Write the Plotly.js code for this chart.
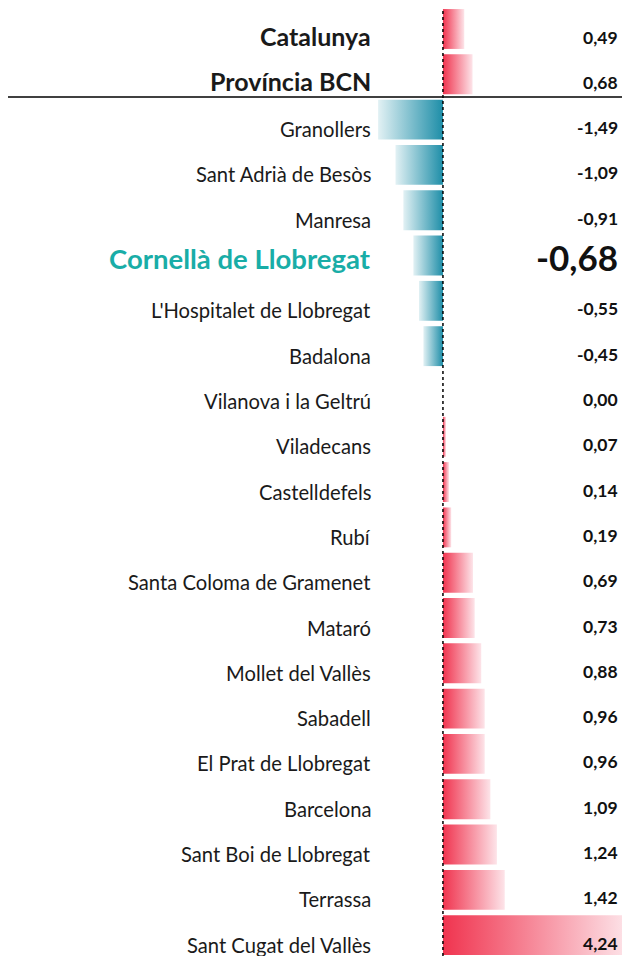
<!DOCTYPE html>
<html>
<head>
<meta charset="utf-8">
<script src="https://cdn.plot.ly/plotly-3.0.1.min.js"></script>
<style>html,body{margin:0;padding:0;background:#fff;}#chart{width:625px;height:956px;}</style>
</head>
<body>
<div id="chart"></div>
<script>
const categories = ["Catalunya","Província BCN","Granollers","Sant Adrià de Besòs","Manresa","Cornellà de Llobregat","L'Hospitalet de Llobregat","Badalona","Vilanova i la Geltrú","Viladecans","Castelldefels","Rubí","Santa Coloma de Gramenet","Mataró","Mollet del Vallès","Sabadell","El Prat de Llobregat","Barcelona","Sant Boi de Llobregat","Terrassa","Sant Cugat del Vallès"];
const values = [0.49,0.68,-1.49,-1.09,-0.91,-0.68,-0.55,-0.45,0.00,0.07,0.14,0.19,0.69,0.73,0.88,0.96,0.96,1.09,1.24,1.42,4.24];
const summaryRows = ["Catalunya","Província BCN"];
const highlight = "Cornellà de Llobregat";

const FONT = "Lato, 'Open Sans', sans-serif";
const posScale = [[0,"#F0344F"],[1,"#FDE4E9"]];
const negScale = [[0,"#E2F1F4"],[1,"#1E8EA8"]];
const half = 0.44;

const traces = [];
values.forEach((v,i)=>{
  if (v === 0) return;
  traces.push({
    type:"scatter", mode:"lines",
    x:[0, v, v, 0, 0],
    y:[i-half, i-half, i+half, i+half, i-half],
    fill:"toself",
    line:{width:0, color:"rgba(0,0,0,0)"},
    fillgradient:{type:"horizontal", colorscale: v>0 ? posScale : negScale},
    hoverinfo:"skip", showlegend:false
  });
});

const fmt = v => v.toFixed(2).replace('.', ',');
const annotations = [];
categories.forEach((c,i)=>{
  const isSum = summaryRows.includes(c);
  const isHi = c === highlight;
  annotations.push({
    xref:"paper", yref:"y", x:0.6, y:i, xanchor:"right", yanchor:"middle",
    yshift: isSum ? -7 : (isHi ? -3 : -9.5),
    text: (isSum||isHi) ? "<b>"+c+"</b>" : c, showarrow:false,
    font:{family:FONT, size: isHi ? 27.5 : (isSum ? 25 : 20.2), color: isHi ? "#19ADA7" : "#1a1a1a"}
  });
  annotations.push({
    xref:"paper", yref:"y", x:0.997, y:i, xanchor:"right", yanchor:"middle",
    yshift: isHi ? -1 : -8,
    text:"<b>"+fmt(values[i])+"</b>", showarrow:false,
    font:{family:FONT, size: isHi ? 35 : 17.5, color:"#111"}
  });
});

const layout = {
  width:625, height:956,
  margin:{l:0, r:3, t:0, b:0},
  paper_bgcolor:"#fff", plot_bgcolor:"#fff",
  xaxis:{range:[-10.18, 4.115], showgrid:false, zeroline:false, showticklabels:false, showline:false, fixedrange:true},
  yaxis:{range:[20.46, -0.64], showgrid:false, zeroline:false, showticklabels:false, showline:false, fixedrange:true},
  annotations: annotations,
  shapes:[
    {type:"line", xref:"x", yref:"paper", x0:0, x1:0, y0:0, y1:1-8/956, line:{color:"#000", width:1.5, dash:"dot"}, layer:"above"},
    {type:"line", xref:"paper", yref:"y", x0:8/622, x1:1, y0:1.5, y1:1.5, line:{color:"#000", width:1.5}, layer:"above"}
  ]
};

Plotly.newPlot("chart", traces, layout, {displayModeBar:false, staticPlot:true});
</script>
</body>
</html>
